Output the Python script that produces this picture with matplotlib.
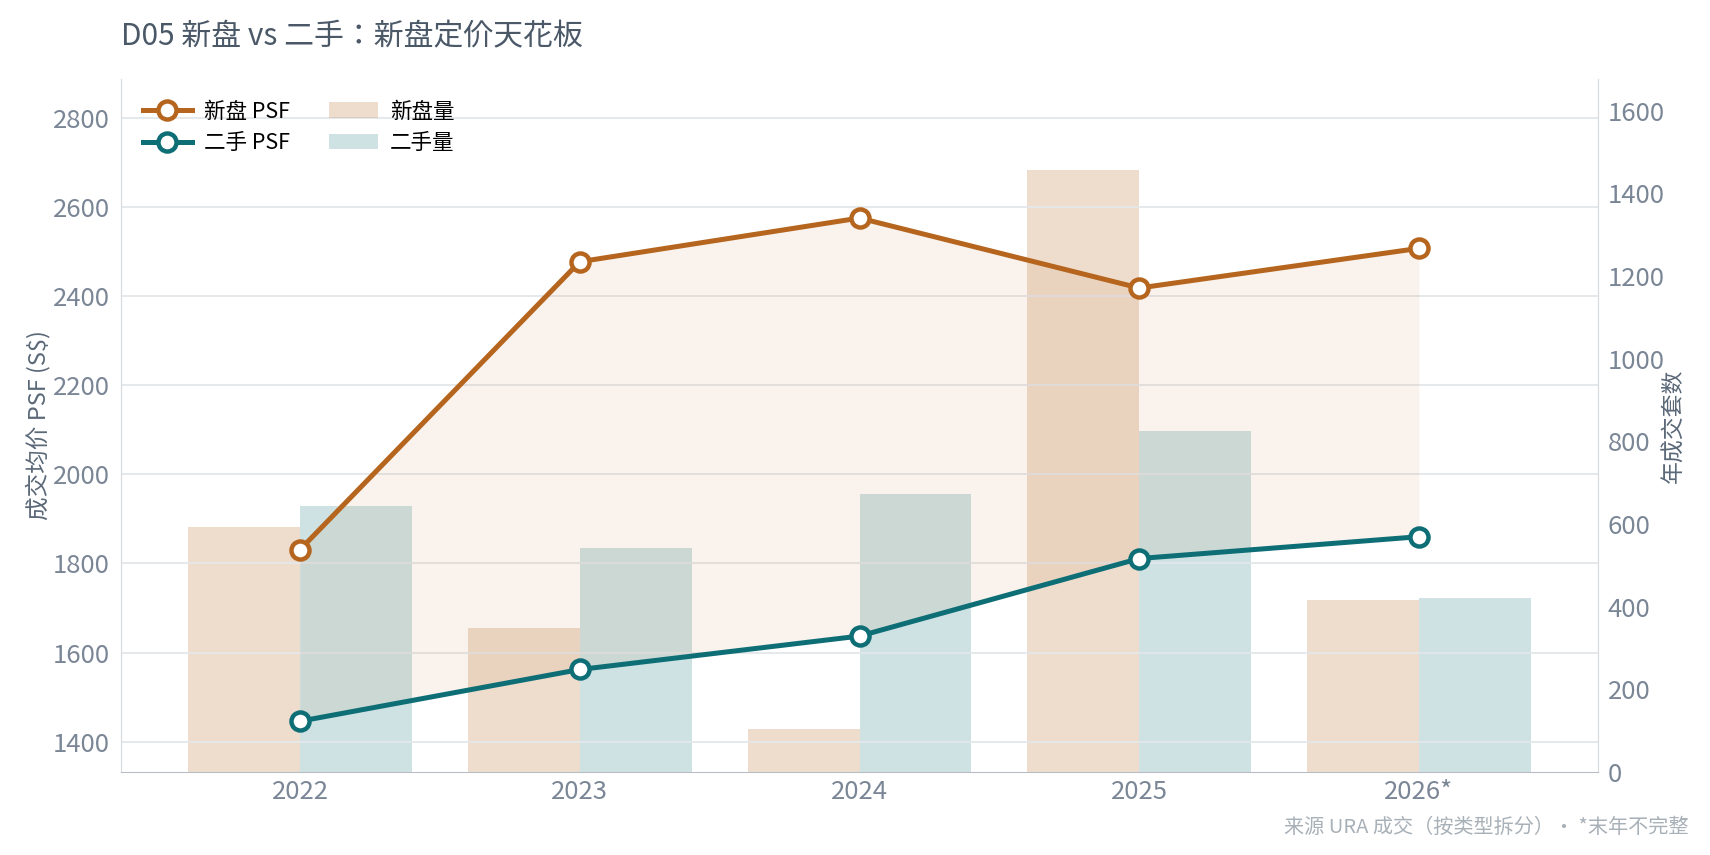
import numpy as np
import matplotlib.pyplot as plt

plt.rcParams['font.family'] = ['Noto Sans CJK SC', 'DejaVu Sans']

# data
years = ['2022', '2023', '2024', '2025', '2026*']
new_psf = [1831, 2477, 2575, 2418, 2507]
resale_psf = [1446, 1562, 1637, 1811, 1860]
new_vol = [594, 348, 103, 1457, 417]
resale_vol = [644, 541, 673, 826, 420]

c_new = '#B5651D'
c_res = '#0E6E76'
tick_c = '#7A8696'
label_c = '#5A6878'

fig = plt.figure(figsize=(17.1, 8.55), dpi=100)
ax = fig.add_axes([121 / 1710, 1 - 772 / 855, (1598 - 121) / 1710, (772 - 79) / 855])
ax2 = ax.twinx()
ax.set_zorder(ax2.get_zorder() + 1)
ax.patch.set_visible(False)

x = np.arange(len(years))
w = 0.4
ax2.bar(x - w / 2, new_vol, w, color=c_new, alpha=0.22, linewidth=0, label='新盘量')
ax2.bar(x + w / 2, resale_vol, w, color=c_res, alpha=0.2, linewidth=0, label='二手量')
ax2.set_ylim(0, 1677)
ax2.set_yticks(np.arange(0, 1601, 200))

ax.fill_between(x, resale_psf, new_psf, color=c_new, alpha=0.08, linewidth=0)
ax.plot(x, new_psf, color=c_new, lw=3.6, marker='o', ms=13, mfc='white', mew=3.2, label='新盘 PSF')
ax.plot(x, resale_psf, color=c_res, lw=3.6, marker='o', ms=13, mfc='white', mew=3.2, label='二手 PSF')
ax.set_ylim(1332, 2887)
ax.set_yticks(np.arange(1400, 2801, 200))
ax.set_xlim(-0.64, 4.64)
ax.set_xticks(x)
ax.set_xticklabels(years)

ax.grid(axis='y', color='#E3E7EB', lw=1.3)
ax.set_axisbelow(True)

for a in (ax, ax2):
    a.spines['top'].set_visible(False)
    a.tick_params(colors=tick_c, labelsize=18.5, length=0)
ax.spines['left'].set_color('#D5DADF')
ax.spines['right'].set_visible(False)
ax2.spines['left'].set_visible(False)
ax2.spines['right'].set_color('#D5DADF')
ax.spines['bottom'].set_color('#B8BEC4')
ax2.spines['bottom'].set_visible(False)
ax.tick_params(axis='x', pad=5)
ax.tick_params(axis='y', pad=8)
ax2.tick_params(axis='y', pad=7)

ax.set_ylabel('成交均价 PSF (S$)', color=label_c, fontsize=17, labelpad=1.5)
ax2.set_ylabel('年成交套数', color=label_c, fontsize=16.5, labelpad=-2)

h1, l1 = ax.get_legend_handles_labels()
h2, l2 = ax2.get_legend_handles_labels()
ax.legend(h1 + h2, l1 + l2, loc='upper left', ncol=2, frameon=False, fontsize=15.5,
          handlelength=2.3, handletextpad=0.55, columnspacing=1.8, borderaxespad=0.6,
          labelspacing=0.45)

fig.text(121 / 1710, 1 - 37 / 855, 'D05 新盘 vs 二手：新盘定价天花板', fontsize=21.5, color='#4A5868',
         va='center', ha='left', family=['Noto Sans CJK JP', 'DejaVu Sans'])
fig.text(1688 / 1710, 1 - 827 / 855, '来源 URA 成交（按类型拆分）· *末年不完整', fontsize=14.5,
         color='#A8B0B8', va='center', ha='right')

fig.savefig('out.png', dpi=100)
